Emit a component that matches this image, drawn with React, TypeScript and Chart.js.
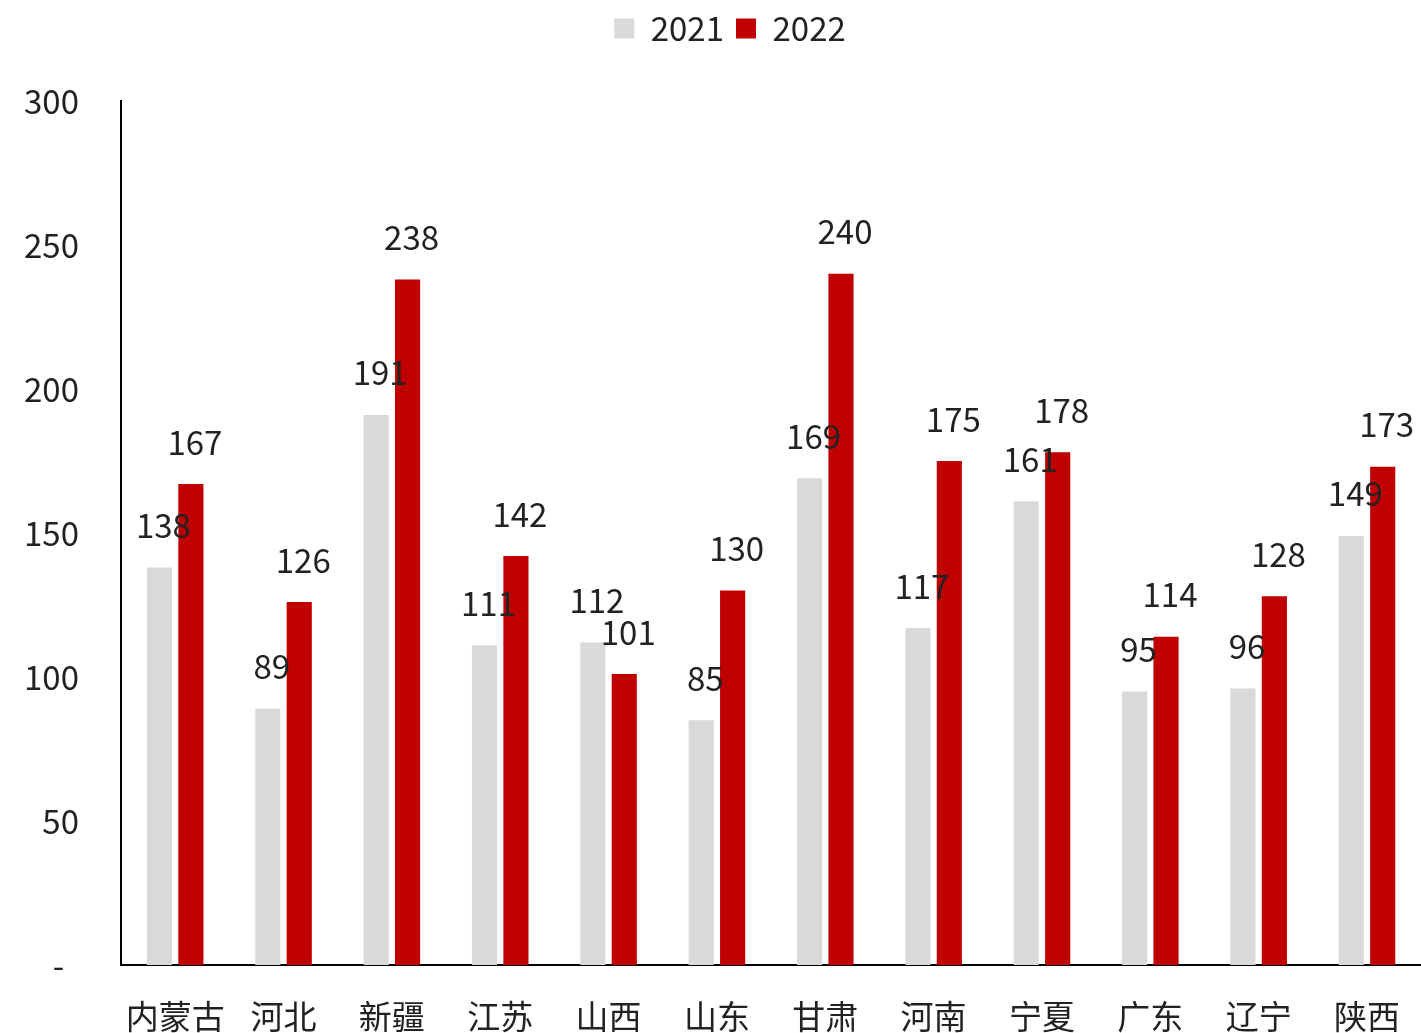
import React, { useEffect, useRef } from "react";
import { Chart, registerables } from "chart.js";

Chart.register(...registerables);

const categories = ["内蒙古", "河北", "新疆", "江苏", "山西", "山东", "甘肃", "河南", "宁夏", "广东", "辽宁", "陕西"];
const values2021 = [138, 89, 191, 111, 112, 85, 169, 117, 161, 95, 96, 149];
const values2022 = [167, 126, 238, 142, 101, 130, 240, 175, 178, 114, 128, 173];
const seriesNames = ["2021", "2022"];
const yTicks = [0, 50, 100, 150, 200, 250, 300];

const FONT = "'Noto Sans CJK SC', 'Noto Sans', sans-serif";
const TEXT = "#222222";

const legendPad = {
  id: "legendPad",
  beforeInit(chart: any) {
    const legend = chart.legend;
    if (!legend) return;
    const orig = legend.fit;
    legend.fit = function () {
      orig.call(this);
      this.height += 46;
    };
  },
  afterLayout(chart: any) {
    const legend = chart.legend;
    if (!legend) return;
    legend.left += 18;
    legend.right += 18;
  },
};

const dataLabels = {
  id: "dataLabels",
  afterDatasetsDraw(chart: any) {
    const ctx = chart.ctx;
    ctx.save();
    ctx.font = `33px ${FONT}`;
    ctx.fillStyle = TEXT;
    ctx.textAlign = "center";
    ctx.textBaseline = "middle";
    chart.data.datasets.forEach((ds: any, di: number) => {
      const meta = chart.getDatasetMeta(di);
      meta.data.forEach((el: any, i: number) => {
        ctx.fillText(String(ds.data[i]), el.x + 4, el.y - 42);
      });
    });
    ctx.restore();
  },
};

export default function App() {
  const ref = useRef<HTMLCanvasElement>(null);
  useEffect(() => {
    if (!ref.current) return;
    const chart = new Chart(ref.current, {
      type: "bar",
      data: {
        labels: categories,
        datasets: [
          { label: seriesNames[0], data: values2021, backgroundColor: "#d9d9d9", categoryPercentage: 0.58, barPercentage: 0.8 },
          { label: seriesNames[1], data: values2022, backgroundColor: "#c00000", categoryPercentage: 0.58, barPercentage: 0.8 },
        ],
      },
      options: {
        animation: false,
        responsive: true,
        maintainAspectRatio: false,
        layout: { padding: { top: 0, right: 0, bottom: 0, left: 0 } },
        plugins: {
          legend: {
            display: true,
            position: "top",
            labels: {
              boxWidth: 20,
              boxHeight: 20,
              color: TEXT,
              font: { family: FONT, size: 33 },
              padding: 12,
            },
          },
          tooltip: { enabled: false },
        },
        scales: {
          x: {
            grid: { display: false },
            border: { display: true, color: "#000", width: 2 },
            ticks: { color: TEXT, font: { family: FONT, size: 33 }, padding: 24, maxRotation: 0 },
            afterFit(scale: any) {
              scale.height = 68;
            },
          },
          y: {
            min: 0,
            max: 300,
            afterBuildTicks(scale: any) {
              scale.ticks = yTicks.map((v) => ({ value: v }));
            },
            grid: { display: false },
            border: { display: true, color: "#000", width: 2 },
            ticks: {
              color: TEXT,
              font: { family: FONT, size: 33 },
              padding: 34,
              callback: (v: any) => (Number(v) === 0 ? "-  " : String(v)),
            },
            afterFit(scale: any) {
              scale.width = 121;
            },
          },
        },
      },
      plugins: [legendPad, dataLabels],
    });
    return () => chart.destroy();
  }, []);
  return (
    <div style={{ position: "fixed", left: 0, top: 0, width: 1424, height: 1033, background: "#fff" }}>
      <canvas ref={ref} />
    </div>
  );
}
